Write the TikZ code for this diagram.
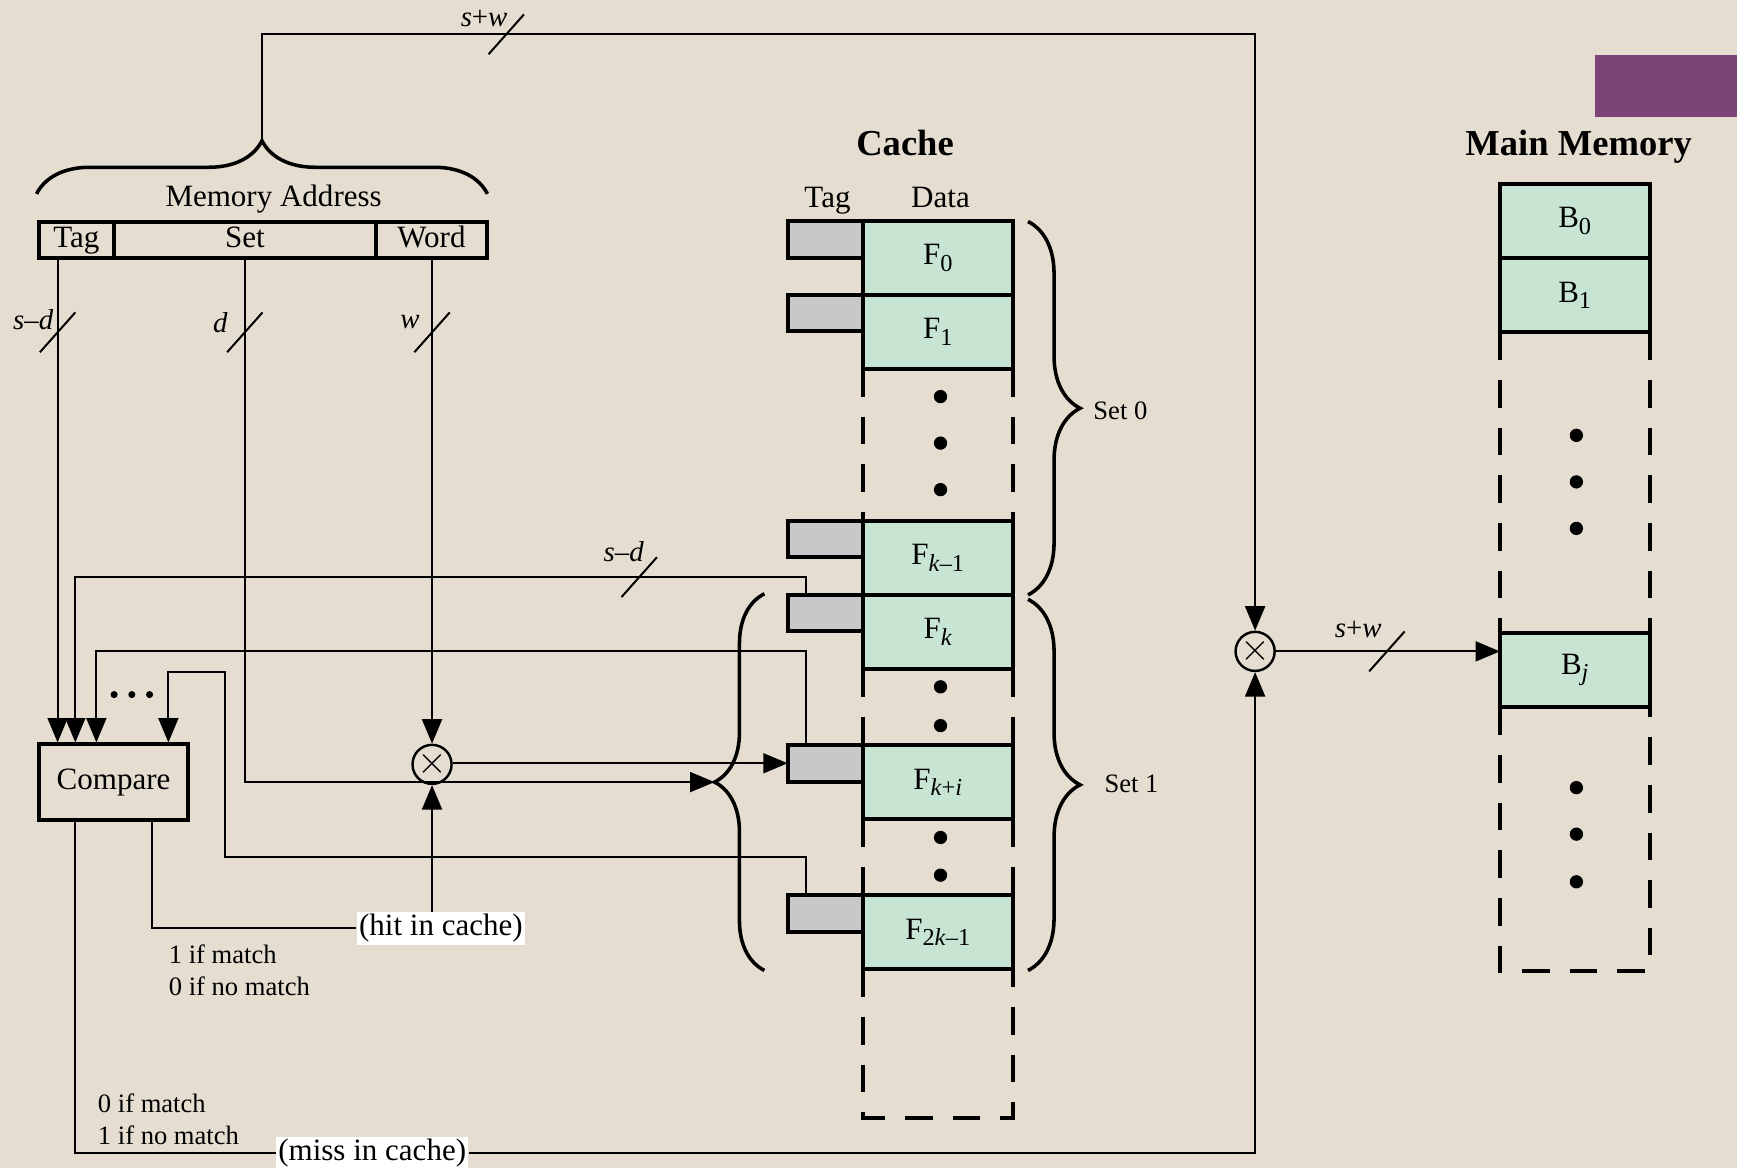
\documentclass[tikz,border=0pt]{standalone}
\usepackage{fontspec}
\setmainfont{Liberation Serif}
\usetikzlibrary{arrows.meta,decorations.pathreplacing}
\definecolor{paper}{RGB}{229,221,208}
\definecolor{blockfill}{RGB}{200,229,212}
\definecolor{tagfill}{RGB}{200,200,203}
\definecolor{banner}{RGB}{123,69,120}
\newcommand{\lowix}[1]{\raisebox{-0.45ex}{\fontsize{11}{12}\selectfont #1}}
\begin{document}
\begin{tikzpicture}[x=0.5pt,y=-0.5pt,font=\fontsize{14}{16}\selectfont,
  wire/.style={line width=0.9pt},
  bus/.style={line width=0.9pt,-{Triangle[length=11pt,width=9pt]}},
  field/.style={draw,line width=1.8pt,minimum height=16.5pt,inner sep=0pt,outer sep=0pt,text height=9.5pt,text depth=3pt},
  slot/.style={draw,line width=1.8pt,fill=blockfill,minimum width=67.5pt,minimum height=33.5pt,inner sep=0pt,outer sep=0pt},
  tagbox/.style={draw,line width=1.8pt,fill=tagfill,minimum width=34pt,minimum height=16.5pt,inner sep=0pt,outer sep=0pt},
  mux/.style={draw,circle,line width=1.1pt,minimum size=17pt,inner sep=0pt,font=\fontsize{17}{17}\selectfont},
  gap/.style={line width=1.8pt,dash pattern=on 12.5pt off 9pt},
  curly/.style={line width=1.6pt,decorate,decoration={brace,amplitude=#1}},
  hint/.style={font=\fontsize{12}{14.5}\selectfont,align=left,anchor=north west,inner sep=0pt},
  buslabel/.style={font=\fontsize{13}{15}\selectfont,inner sep=0pt},
  heading/.style={font=\fontsize{16.5}{18}\selectfont\bfseries,anchor=base}]
\fill[paper] (0,0) rectangle (1568,1054);
\useasboundingbox (0,0) rectangle (1568,1054);
\fill[banner] (1440,50) rectangle (1568,106);

\coordinate (xtag) at (52,0);
\coordinate (xk) at (68,0);
\coordinate (xki) at (87,0);
\coordinate (xlast) at (152,0);
\coordinate (xhit) at (137,0);
\coordinate (xmiss) at (68,0);
\coordinate (addr) at (236.5,127);
\coordinate (toprun) at (1133,31);
\coordinate (ltip) at (645,706);

\node[field,minimum width=34pt] (tagf) at (69,216.5) {Tag};
\node[field,minimum width=118pt] (setf) at (221,216.5) {Set};
\node[field,minimum width=50.5pt] (wordf) at (389.5,216.5) {Word};
\node[anchor=base] (addrname) at (247,186) {Memory Address};
\draw[curly=24pt] (33,175) -- (440,175);

\node[draw,line width=1.8pt,minimum width=67.5pt,minimum height=34pt,inner sep=0pt] (cmp) at (102.5,706) {Compare};
\node[mux] (lmux) at (390,690) {$\times$};
\node[mux] (rmux) at (1133,588) {$\times$};

\node[heading] (cachename) at (817,140) {Cache};
\node[anchor=base] (cachetag) at (747,187) {Tag};
\node[anchor=base] (cachedata) at (849,187) {Data};
\foreach \nm/\y/\lab in {f0/233/{F\lowix{0}}, f1/299.5/{F\lowix{1}},
    fa/503.5/{F\lowix{\textit{k}–1}}, fb/570.5/{F\lowix{\textit{k}}},
    fc/706/{F\lowix{\textit{k}+\textit{i}}}, fd/841.5/{F\lowix{2\textit{k}–1}}} {
  \node[tagbox] (t\nm) at (745,\y-17) {};
  \node[slot] (\nm) at (846.5,\y) {\lab};
}
\draw[gap] (f1.south west) -- (fa.north west);
\draw[gap] (f1.south east) -- (fa.north east);
\draw[gap] (fb.south west) -- (fc.north west);
\draw[gap] (fb.south east) -- (fc.north east);
\draw[gap] (fc.south west) -- (fd.north west);
\draw[gap] (fc.south east) -- (fd.north east);
\draw[gap] (fd.south west) -- ++(0,134) -- ++(135,0) -- (fd.south east);
\foreach \y in {358,400,442,620,655,756,790}
  \fill (849,\y) circle (3pt);

\node[heading] (memname) at (1425,140) {Main Memory};
\foreach \nm/\y/\lab in {b0/199.5/{B\lowix{0}}, b1/266.5/{B\lowix{1}}, bj/605/{B\lowix{\textit{j}}}}
  \node[slot] (\nm) at (1421.5,\y) {\lab};
\draw[gap] (b1.south west) -- (bj.north west);
\draw[gap] (b1.south east) -- (bj.north east);
\draw[gap] (bj.south west) -- ++(0,238) -- ++(135,0) -- (bj.south east);
\foreach \y in {393,435,477,711,753,796}
  \fill (1423,\y) circle (3pt);

\draw[curly=23.5pt] (928,200) -- (928,537);
\node[anchor=west] (set0) at (980,371) {\fontsize{12}{14}\selectfont Set 0};
\draw[curly=23.5pt] (928,541) -- (928,876);
\node[anchor=west] (set1) at (990,708) {\fontsize{12}{14}\selectfont Set 1};
\draw[curly=22.5pt] (690,876) -- (690,536);

\draw[bus] (addr) |- (toprun) -- (rmux.north);
\draw[bus] (tagf.south -| xtag) -- (cmp.north -| xtag);
\draw[bus] (setf.south) |- (ltip);
\draw[bus] (wordf.south -| lmux) -- (lmux.north);
\draw[bus] (lmux.east |- tfc) -- (tfc.west);
\draw[bus] ([xshift=-8.5pt]tfb.north) -- ++(0,-16) -| (cmp.north -| xk);
\draw[bus] ([xshift=-8.5pt]tfc.north) -- ++(0,-85) -| (cmp.north -| xki);
\draw[bus] ([xshift=-8.5pt]tfd.north) -- ++(0,-34) -| (203,607) -| (cmp.north -| xlast);
\foreach \x in {103,119,135}
  \fill (\x,627) circle (1.6pt);
\draw[bus] (rmux) -- (rmux -| bj.west);

\node[fill=white,inner sep=1pt] (hit) at (398,838) {(hit in cache)};
\node[fill=white,inner sep=1pt] (miss) at (336,1041) {(miss in cache)};
\draw[wire] (cmp.south -| xhit) |- (hit.west);
\draw[bus] (hit.north -| lmux) -- (lmux.south);
\draw[wire] (cmp.south -| xmiss) |- (miss.west);
\draw[bus] (miss.east) -| (rmux.south);
\node[hint] (hitnote) at (152,852) {1 if match\\0 if no match};
\node[hint] (missnote) at (88,987) {0 if match\\1 if no match};

\foreach \p in {(52,300),(221,300),(390,300),(577,521),(457,31),(1252,588)}
  \draw[wire] \p ++(-16,18) -- ++(32,-36);
\node[buslabel] (wtag) at (30,289) {\textit{s}–\textit{d}};
\node[buslabel] (wset) at (199,291) {\textit{d}};
\node[buslabel] (wword) at (370,291) {\textit{w}};
\node[buslabel] (wline) at (563,498) {\textit{s}–\textit{d}};
\node[buslabel] (waddr) at (437,17) {\textit{s}+\textit{w}};
\node[buslabel] (wblock) at (1226,568) {\textit{s}+\textit{w}};
\end{tikzpicture}
\end{document}
